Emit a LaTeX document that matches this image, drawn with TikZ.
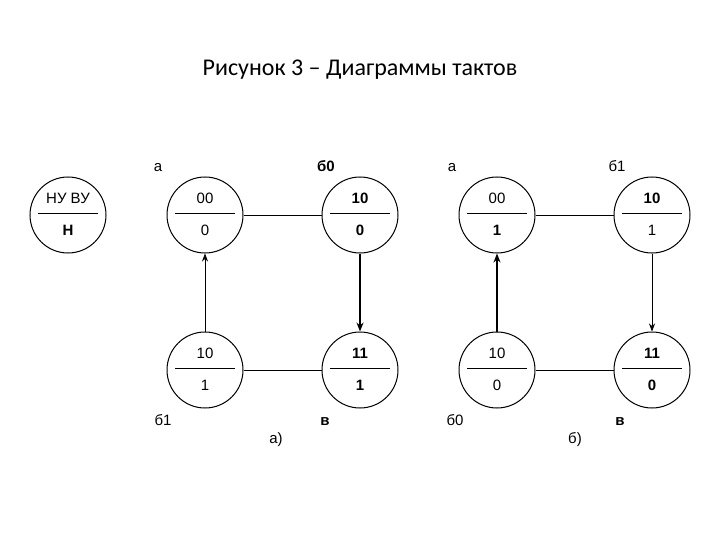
\documentclass[tikz,border=0pt]{standalone}
\usepackage{fontspec}
\setmainfont{Liberation Sans}
\newfontfamily\titlefont{Carlito}
\usetikzlibrary{arrows.meta,calc}
\tikzset{
 st/.style={circle,draw,line width=1pt,minimum size=76pt,inner sep=0pt},
 lbl/.style={font=\fontsize{15}{17}\selectfont},
 conn/.style={line width=0.8pt},
 thin/.style={line width=0.6pt,-{Stealth[length=8pt,width=6pt]}},
 thick/.style={line width=1.4pt,-{Stealth[length=9pt,width=7pt]}}
}
\newcommand{\cst}[4]{%
 \node[st] (#1) at #2 {};
 \node[lbl] (#1t) at ($#2+(0,-17)$) {#3};
 \node[lbl] (#1b) at ($#2+(0,15)$) {#4};
 \draw[line width=0.9pt] ($#2+(-30,-2)$) -- ($#2+(30,-2)$);}
\begin{document}
\begin{tikzpicture}[x=1pt,y=-1pt]
\useasboundingbox (0,0) rectangle (720,540);
\node[font=\titlefont\fontsize{24}{28}\selectfont] (title) at (360,70) {Рисунок 3 – Диаграммы тактов};
\cst{leg}{(68,215)}{НУ ВУ}{\textbf{Н}}
% diagram a
\cst{a1}{(205,215)}{00}{0}
\cst{a2}{(360,215)}{\textbf{10}}{\textbf{0}}
\cst{a3}{(205,370)}{10}{1}
\cst{a4}{(360,370)}{\textbf{11}}{\textbf{1}}
\draw[conn] (a1) -- (a2);
\draw[conn] (a3) -- (a4);
\draw[thin] (a3) -- (a1);
\draw[thick] (a2) -- (a4);
% diagram b
\cst{b1}{(497,215)}{00}{\textbf{1}}
\cst{b2}{(652,215)}{\textbf{10}}{1}
\cst{b3}{(497,370)}{10}{0}
\cst{b4}{(652,370)}{\textbf{11}}{\textbf{0}}
\draw[conn] (b1) -- (b2);
\draw[conn] (b3) -- (b4);
\draw[thick] (b3) -- (b1);
\draw[thin] (b2) -- (b4);
% labels
\node[lbl] (l1) at (158,168) {а};
\node[lbl] (l2) at (326,166) {\textbf{б0}};
\node[lbl] (l3) at (452,168) {а};
\node[lbl] (l4) at (617,166) {б1};
\node[lbl] (l5) at (163,420) {б1};
\node[lbl] (l6) at (325,422) {\textbf{в}};
\node[lbl] (l7) at (276,440) {а)};
\node[lbl] (l8) at (455,420) {б0};
\node[lbl] (l9) at (620,422) {\textbf{в}};
\node[lbl] (l10) at (575,440) {б)};
\end{tikzpicture}
\end{document}
